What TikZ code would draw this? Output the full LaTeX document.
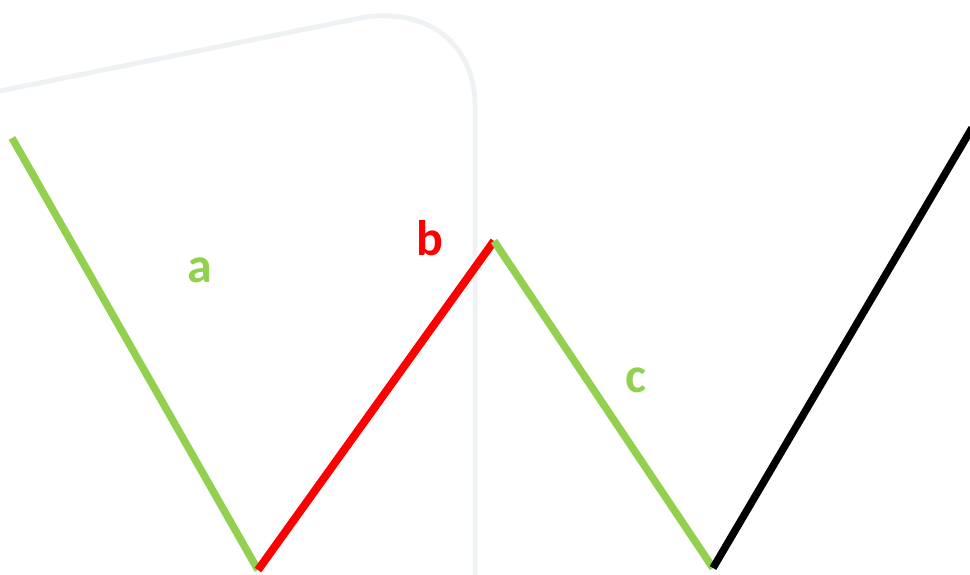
\documentclass[tikz,border=0pt]{standalone}
\usepackage{fontspec}
\setmainfont{Carlito}
\definecolor{ogreen}{HTML}{92D050}
\definecolor{ored}{HTML}{FF0000}
\definecolor{faint}{HTML}{EFF2F5}
\begin{document}
\begin{tikzpicture}[x=1pt,y=-1pt,
  leg/.style={line width=7.5pt},
  lbl/.style={font=\fontsize{50}{58}\selectfont\bfseries, inner sep=0pt}]
\useasboundingbox (0,0) rectangle (970,574);
\draw[faint, line width=5pt] (0,91) -- (365,17) .. controls (435,8) and (475,50) .. (475,105) -- (475,580);
\coordinate (p1) at (12,138);
\coordinate (p2) at (258,570);
\coordinate (p3) at (494,241);
\coordinate (p4) at (713,568);
\coordinate (p5) at (972,128);
\draw[leg, ogreen] (p1) -- (p2);
\draw[leg, ored, line width=8pt] (p2) -- (p3);
\draw[leg, ogreen] (p3) -- (p4);
\draw[leg, black] (p4) -- (p5);
\node[lbl, text=ogreen] (la) at (200,270) {a};
\node[lbl, text=ored] (lb) at (430,238) {b};
\node[lbl, text=ogreen] (lc) at (636,380) {c};
\end{tikzpicture}
\end{document}
